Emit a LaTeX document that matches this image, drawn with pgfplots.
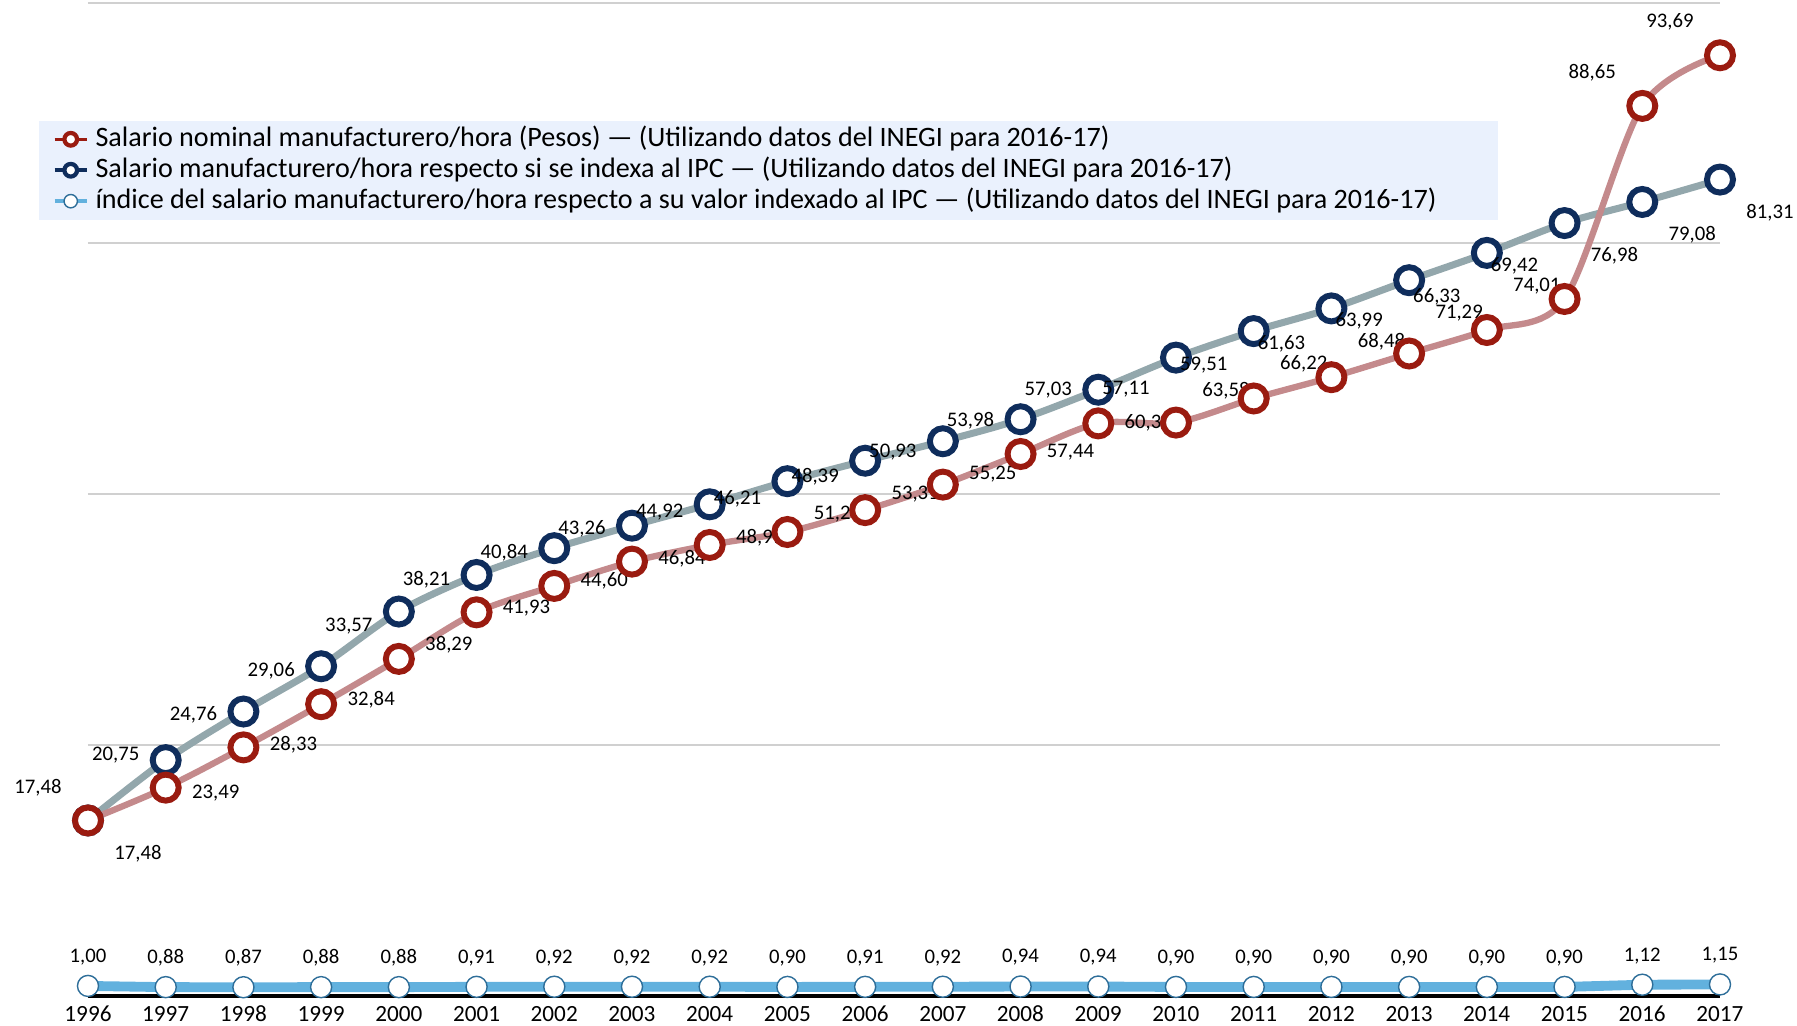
\documentclass[border=0pt]{standalone}
\usepackage{pgfplots}
\pgfplotsset{compat=1.18}
\usepackage{pgfplotstable}
\usepackage{fontspec}
\setmainfont{Carlito}

\definecolor{redline}{HTML}{C48A8C}
\definecolor{redmark}{HTML}{9A1B10}
\definecolor{blueline}{HTML}{93A7AC}
\definecolor{bluemark}{HTML}{0F2D5C}
\definecolor{idxline}{HTML}{62B1DE}
\definecolor{idxmark}{HTML}{2E6E99}
\definecolor{legfill}{HTML}{EAF1FD}
\definecolor{gridgray}{HTML}{D0D0D0}

% nominal = red series, indexed = blue series, ratio = index series
\pgfplotstableread{
year nominal indexed ratio
1996 17.48 17.48 1.00
1997 20.75 23.49 0.88
1998 24.76 28.33 0.87
1999 29.06 32.84 0.88
2000 33.57 38.29 0.88
2001 38.21 41.93 0.91
2002 40.84 44.60 0.92
2003 43.26 46.84 0.92
2004 44.92 48.97 0.92
2005 46.21 51.27 0.90
2006 48.39 53.31 0.91
2007 50.93 55.25 0.92
2008 53.98 57.44 0.94
2009 57.03 60.38 0.94
2010 57.11 63.58 0.90
2011 59.51 66.22 0.90
2012 61.63 68.48 0.90
2013 63.99 71.29 0.90
2014 66.33 74.01 0.90
2015 69.42 76.98 0.90
2016 88.65 79.08 1.12
2017 93.69 81.31 1.15
}\datatable

\newcommand{\lblfont}{\fontsize{5.9}{6.5}\selectfont}

\begin{document}
\begin{tikzpicture}
\useasboundingbox (-0.88cm,-0.30cm) rectangle (17.09cm,9.96cm);
\begin{axis}[
  at={(0,0)}, anchor=south west,
  scale only axis, width=16.32cm, height=9.93cm,
  xmin=1996, xmax=2017, ymin=0, ymax=98.9,
  clip=false,
  axis lines*=left,
  y axis line style={draw=none},
  x axis line style={black, line width=1.1pt},
  xtick={1996,...,2017},
  ytick={25,50,75,98.9}, yticklabels={},
  major tick length=0pt,
  ymajorgrids, grid style={gridgray, line width=0.5pt},
  xticklabel style={anchor=center, yshift=-0.18cm, font=\fontsize{6.6}{7}\selectfont,
    /pgf/number format/1000 sep=, /pgf/number format/assume math mode=true},
  nodes near coords={\pgfmathprintnumber[fixed, fixed zerofill, precision=2, use comma, assume math mode=true]{\pgfplotspointmeta}},
  reverse legend,
  legend cell align=left,
  legend style={at={(rel axis cs:-0.0305,0.882)}, anchor=north west,
    fill=legfill, draw=none, font=\fontsize{8}{9}\selectfont,
    nodes={inner ysep=0pt, text height=6.2pt, text depth=1.9pt},
    inner xsep=4pt, inner ysep=1.2pt, row sep=0.7pt},
]

\addplot[idxline, line width=2.8pt, mark=*,
  mark options={draw=idxmark, fill=white, line width=0.4pt, mark size=3pt},
  every node near coord/.style={anchor=center, yshift=0.29cm, text=black, font=\lblfont},
  legend image code/.code={\draw[idxline, line width=1pt] (0cm,0cm) -- (0.32cm,0cm);
    \draw[idxmark, fill=white, line width=0.4pt] (0.16cm,0cm) circle (1.9pt);}]
  table[x=year, y=ratio]{\datatable};
\addlegendentry{índice del salario manufacturero/hora respecto a su valor indexado al IPC — (Utilizando datos del INEGI para 2016-17)\hspace*{0.4cm}}

\addplot[blueline, line width=2pt, smooth, mark=*,
  mark options={draw=bluemark, fill=white, line width=1.7pt, mark size=3.7pt},
  every node near coord/.style={anchor=center, xshift=0.50cm, yshift=-0.33cm, text=black, font=\lblfont},
  legend image code/.code={\draw[bluemark, line width=1pt] (0cm,0cm) -- (0.32cm,0cm);
    \draw[bluemark, fill=white, line width=1.2pt] (0.16cm,0cm) circle (1.8pt);}]
  table[x=year, y=indexed]{\datatable};
\addlegendentry{Salario manufacturero/hora respecto si se indexa al IPC — (Utilizando datos del INEGI para 2016-17)}

\addplot[redline, line width=1.8pt, smooth, mark=*,
  mark options={draw=redmark, fill=white, line width=1.7pt, mark size=3.7pt},
  every node near coord/.style={anchor=center, xshift=-0.50cm, yshift=0.33cm, text=black, font=\lblfont},
  legend image code/.code={\draw[redmark, line width=1pt] (0cm,0cm) -- (0.32cm,0cm);
    \draw[redmark, fill=white, line width=1.2pt] (0.16cm,0cm) circle (1.8pt);}]
  table[x=year, y=nominal]{\datatable};
\addlegendentry{Salario nominal manufacturero/hora (Pesos) — (Utilizando datos del INEGI para 2016-17)}

\end{axis}
\end{tikzpicture}
\end{document}
